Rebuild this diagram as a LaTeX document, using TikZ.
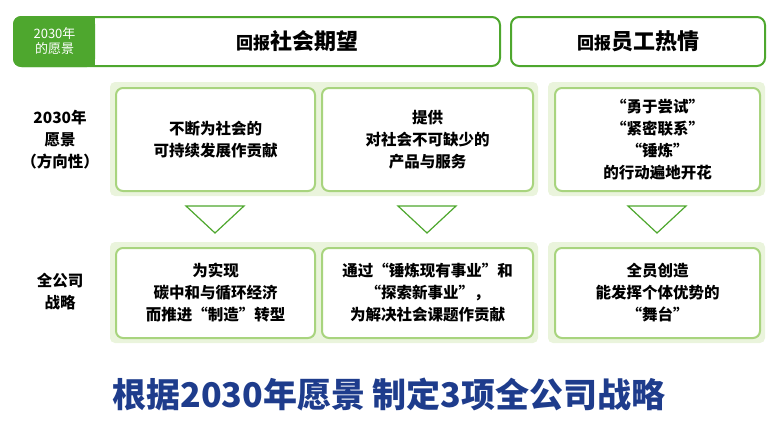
\documentclass[tikz,border=0pt]{standalone}
\usepackage{fontspec}
\setmainfont{Noto Sans CJK SC}
\usetikzlibrary{positioning}
\definecolor{hdgreen}{HTML}{4EA72E}
\definecolor{panelgreen}{HTML}{EAF4DC}
\definecolor{boxgreen}{HTML}{A8D47E}
\definecolor{titleblue}{HTML}{1E3C8C}
\tikzset{
  hdbox/.style={draw=hdgreen, line width=2pt, rounded corners=8pt, fill=white},
  panel/.style={fill=panelgreen, rounded corners=5pt},
  itembox/.style={draw=boxgreen, line width=2pt, rounded corners=7pt, fill=white},
  rowlabel/.style={align=center, font=\bfseries\fontsize{15.5}{22}\selectfont},
  tri/.style={draw=hdgreen, line width=1.2pt, fill=white}
}
\begin{document}
\begin{tikzpicture}[x=1pt, y=-1pt]
\useasboundingbox (0,0) rectangle (779,431);
% headers
\draw[hdbox] (14,17) rectangle (500,66);
\fill[hdgreen, rounded corners=8pt] (13,16) rectangle (95,67);
\fill[hdgreen] (80,16) rectangle (95,67);
\node[text=white, align=center, font=\fontsize{13}{15}\selectfont] (tab) at (54.5,41.5) {2030年\\的愿景};
\node[font=\bfseries\fontsize{17}{19}\selectfont] (h1) at (297,41.5) {回报\fontsize{22}{24}\selectfont 社会期望};
\draw[hdbox] (511,17) rectangle (765,66);
\node[font=\bfseries\fontsize{17}{19}\selectfont] (h2) at (638,41.5) {回报\fontsize{22}{24}\selectfont 员工热情};
% panels
\fill[panel] (110,82) rectangle (538,196);
\fill[panel] (548,82) rectangle (765,196);
\fill[panel] (110,242) rectangle (538,343);
\fill[panel] (548,242) rectangle (765,343);
% row labels
\node[rowlabel] (lab1) at (60,140) {2030年\\愿景\\（方向性）};
\node[rowlabel] (lab2) at (60,292) {全公司\\战略};
% vision boxes
\draw[itembox] (116,88) rectangle (315,191);
\node[rowlabel] (v1) at (215.5,139.5) {不断为社会的\\可持续发展作贡献};
\draw[itembox] (322,88) rectangle (533,191);
\node[rowlabel] (v2) at (427.5,139.5) {提供\\对社会不可缺少的\\产品与服务};
\draw[itembox] (555,88) rectangle (760,191);
\node[rowlabel] (v3) at (657.5,139.5) {“勇于尝试”\\“紧密联系”\\“锤炼”\\的行动遍地开花};
% triangles
\foreach \cx in {215,427,657}
  \draw[tri] (\cx-29,206) -- (\cx+29,206) -- (\cx,233) -- cycle;
% strategy boxes
\draw[itembox] (116,248) rectangle (315,338);
\node[rowlabel] (s1) at (215.5,293) {为实现\\碳中和与循环经济\\而推进“制造”转型};
\draw[itembox] (322,248) rectangle (533,338);
\node[rowlabel] (s2) at (427.5,293) {通过“锤炼现有事业”和\\“探索新事业”，\\为解决社会课题作贡献};
\draw[itembox] (555,248) rectangle (760,338);
\node[rowlabel] (s3) at (657.5,293) {全员创造\\能发挥个体优势的\\“舞台”};
% title
\node[text=titleblue, font=\bfseries\fontsize{34}{36}\selectfont] (title) at (389,395) {根据2030年愿景 制定3项全公司战略};
\end{tikzpicture}
\end{document}
